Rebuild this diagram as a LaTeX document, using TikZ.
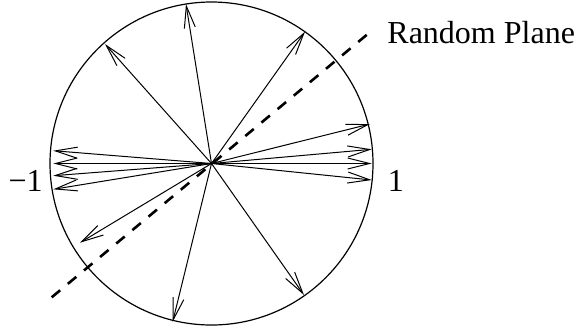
\documentclass[tikz,border=0pt]{standalone}
\usepackage{fontspec}
\setmainfont{Liberation Serif}
\usetikzlibrary{arrows.meta}
\begin{document}
\begin{tikzpicture}[x=0.5pt,y=-0.5pt,
  vec/.style={line width=0.5pt,-{Straight Barb[length=11pt,width=5.5pt,line width=0.5pt]}},
  plane/.style={line width=1.3pt,dash pattern=on 5.5pt off 5pt},
  lbl/.style={inner sep=0pt,font=\fontsize{16}{19}\selectfont}]
\useasboundingbox (0,0) rectangle (577,328);
\coordinate (O) at (211.5,163.5);
\draw[line width=0.6pt] (O) circle[radius=161.5];
% tips
\coordinate (t1) at (186,4);
\coordinate (t2) at (105,44);
\coordinate (t3) at (305,31.7);
\coordinate (t4) at (370,124);
\coordinate (t5) at (371.7,149.3);
\coordinate (t6) at (371.7,163.5);
\coordinate (t7) at (371.7,180);
\coordinate (l1) at (53.3,150.7);
\coordinate (l2) at (53.3,163.5);
\coordinate (l3) at (53.3,175.7);
\coordinate (l4) at (53.3,189.3);
\coordinate (t8) at (80,242.7);
\coordinate (t9) at (172.7,321.7);
\coordinate (t10) at (304,295);
\foreach \t in {t1,t2,t3,t4,t5,t6,t7,l1,l2,l3,l4,t8,t9,t10}
  \draw[vec] (O) -- (\t);
% random plane
\coordinate (pa) at (51.7,297.3);
\coordinate (pb) at (371.7,30.7);
\draw[plane] (pa) -- (pb);
% labels
\node[lbl,anchor=base west] (rp) at (387,43.3) {Random Plane};
\node[lbl,anchor=base east] (m1) at (43,191) {−1};
\node[lbl,anchor=base west] (p1) at (387.5,191) {1};
\end{tikzpicture}
\end{document}
